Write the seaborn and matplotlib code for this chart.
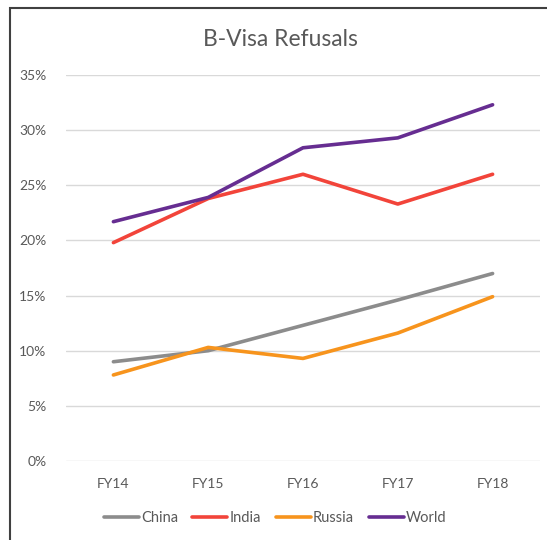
import pandas as pd
import matplotlib.pyplot as plt
import seaborn as sns
from matplotlib.patches import Rectangle
from matplotlib.ticker import PercentFormatter

# Data (share of B-visa applications refused)
years = ["FY14", "FY15", "FY16", "FY17", "FY18"]
china = [0.090, 0.100, 0.123, 0.146, 0.170]
india = [0.198, 0.238, 0.260, 0.233, 0.260]
russia = [0.078, 0.103, 0.093, 0.116, 0.149]
world = [0.217, 0.239, 0.284, 0.293, 0.323]

series_names = ["China", "India", "Russia", "World"]
colors = ["#8c8c8c", "#f2443a", "#f7941d", "#662d91"]

df = pd.DataFrame({"Year": years, "China": china, "India": india,
                   "Russia": russia, "World": world})
df_long = df.melt(id_vars="Year", var_name="Country", value_name="Refusal")

sns.set_style("white")
plt.rcParams["font.family"] = ["Lato", "DejaVu Sans"]

fig = plt.figure(figsize=(5.47, 5.40), dpi=100)
ax = fig.add_axes([66 / 547, 1 - 461 / 540, 474 / 547, 386 / 540])

sns.lineplot(data=df_long, x="Year", y="Refusal", hue="Country",
             hue_order=series_names, palette=colors, sort=False,
             linewidth=2.6, ax=ax, legend=True)
for line in ax.lines:
    line.set_solid_capstyle("round")
    line.set_solid_joinstyle("round")

ax.set_xlim(-0.5, 4.5)
ax.set_ylim(0, 0.35)
ax.set_yticks([0, 0.05, 0.10, 0.15, 0.20, 0.25, 0.30, 0.35])
ax.yaxis.set_major_formatter(PercentFormatter(1.0, decimals=0))
ax.grid(axis="y", color="#d9d9d9", linewidth=1)
ax.set_axisbelow(True)
for side in ["top", "right", "left", "bottom"]:
    ax.spines[side].set_visible(False)
ax.set_xlabel("")
ax.set_ylabel("")
ax.tick_params(axis="both", length=0, labelsize=10, labelcolor="#595959")
ax.tick_params(axis="y", pad=14)
ax.tick_params(axis="x", pad=12)

fig.text(280 / 547, 1 - 40 / 540, "B-Visa Refusals", ha="center",
         va="center", fontsize=16.5, color="#595959")

handles, labels = ax.get_legend_handles_labels()
ax.get_legend().remove()
fig.legend(handles, labels, loc="center", bbox_to_anchor=(275 / 547, 1 - 518 / 540),
           ncol=4, frameon=False, fontsize=10.5, labelcolor="#595959",
           handlelength=2.4, handletextpad=0.15, columnspacing=1.0)

# chart border like the Excel chart area
fig.patches.append(Rectangle((10 / 547, -0.1), 1.2, 1 - 8 / 540 + 0.1,
                             transform=fig.transFigure, fill=False,
                             edgecolor="#404040", linewidth=1.5))

fig.savefig("out.png", dpi=100)
